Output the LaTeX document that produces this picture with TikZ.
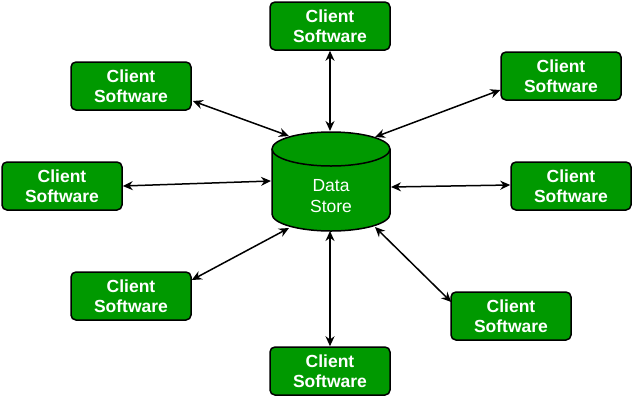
\documentclass[tikz,border=0pt]{standalone}
\usepackage{fontspec}
\setmainfont{Liberation Sans}
\usetikzlibrary{arrows.meta,calc}
\definecolor{boxgreen}{HTML}{009900}
\begin{document}
\begin{tikzpicture}[x=1pt,y=-1pt,
  client/.style={draw=black,line width=1.5pt,fill=boxgreen,rounded corners=5pt,
    minimum width=120pt,minimum height=48pt,inner sep=0pt,text=white,
    font=\fontsize{17.5}{20.5}\selectfont\bfseries,align=center},
  conn/.style={line width=1.5pt,{Stealth[length=10pt,width=9pt]}-{Stealth[length=10pt,width=9pt]}}]
\useasboundingbox (0,0) rectangle (632,397);
% clients
\node[client] (top) at (330,26) {Client\\Software};
\node[client] (ul)  at (131,86) {Client\\Software};
\node[client] (ur)  at (561,76) {Client\\Software};
\node[client] (l)   at (62,186) {Client\\Software};
\node[client] (r)   at (571,186) {Client\\Software};
\node[client] (ll)  at (131,296) {Client\\Software};
\node[client] (lr)  at (511,316) {Client\\Software};
\node[client] (bot) at (330,371) {Client\\Software};
% data store cylinder
\path[draw=black,line width=1.5pt,fill=boxgreen]
  (272,149) -- (272,214) arc[start angle=180,end angle=360,x radius=59pt,y radius=17pt]
  -- (390,149) arc[start angle=0,end angle=180,x radius=59pt,y radius=17pt] -- cycle;
\draw[line width=1.5pt] (272,149) arc[start angle=180,end angle=360,x radius=59pt,y radius=17pt];
\node[inner sep=0pt,text=white,font=\fontsize{17.5}{20.5}\selectfont,align=center,
  minimum width=118pt,minimum height=99pt] (ds) at (331,181.5) {};
\node[text=white,font=\fontsize{17.5}{20.5}\selectfont,align=center] (dslabel) at (331,196) {Data\\Store};
% connection points on the data store
\coordinate (dT)  at (330,131);
\coordinate (dUL) at (289,136);
\coordinate (dUR) at (375,137);
\coordinate (dL)  at (271,181);
\coordinate (dR)  at (391,187);
\coordinate (dLL) at (289,228);
\coordinate (dLR) at (375,227);
\coordinate (dB)  at (330,231);
% connectors
\draw[conn] (top.south) -- (dT);
\draw[conn] ($(ul.east)+(1,15)$) -- (dUL);
\draw[conn] ($(ur.west)+(0,14)$) -- (dUR);
\draw[conn] (l.east) -- (dL);
\draw[conn] (dR) -- ($(r.west)+(0,-1)$);
\draw[conn] ($(ll.east)+(0,-16)$) -- (dLL);
\draw[conn] ($(lr.west)+(1,-14)$) -- (dLR);
\draw[conn] (dB) -- (bot.north);
\end{tikzpicture}
\end{document}
